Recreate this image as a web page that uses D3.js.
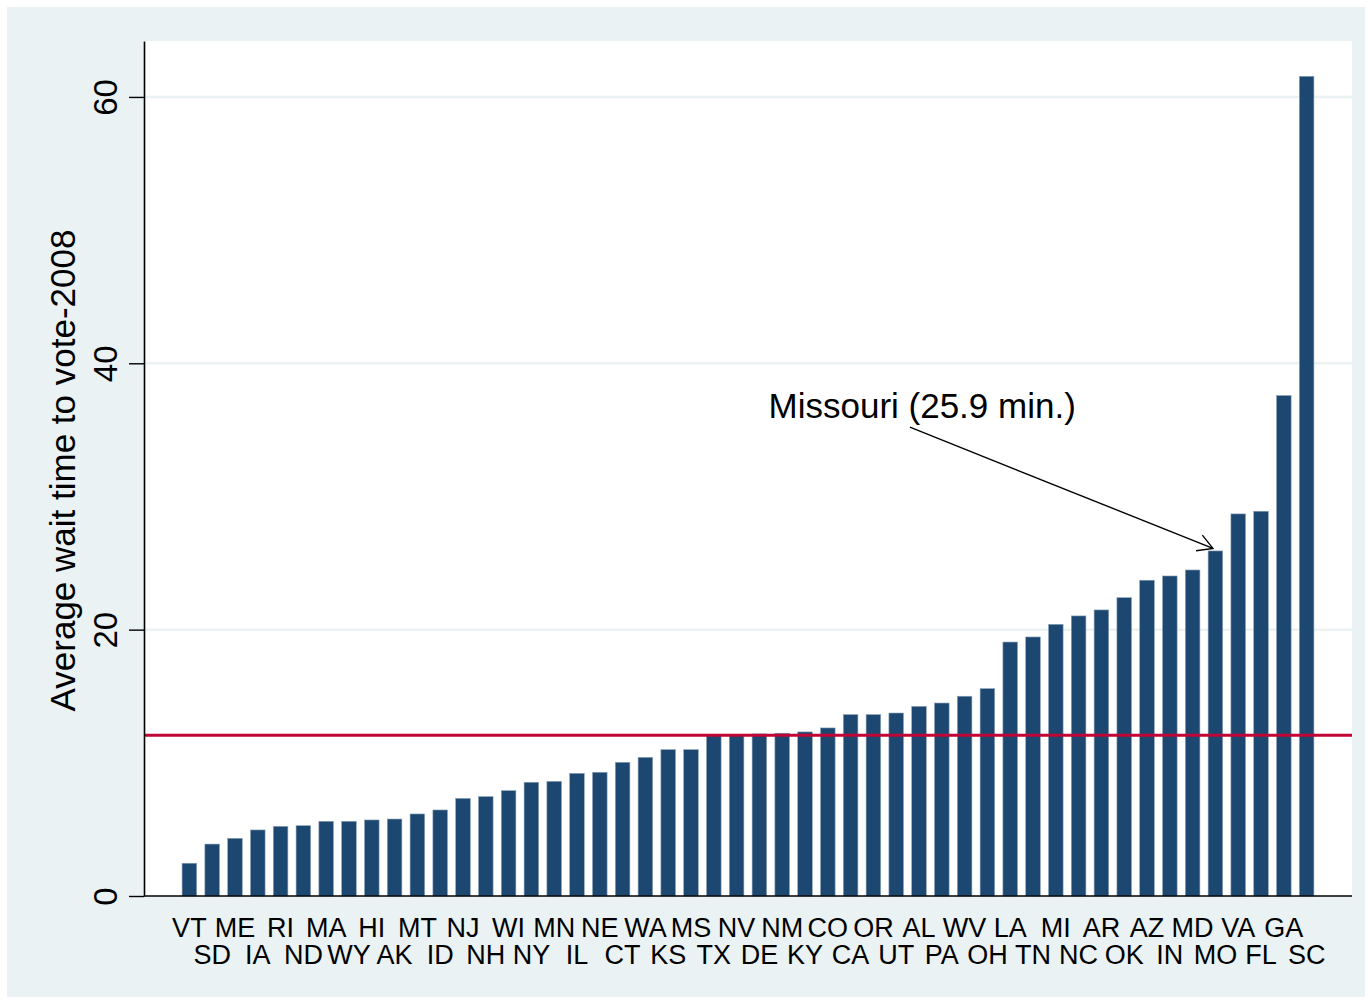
<!DOCTYPE html>
<html>
<head>
<meta charset="utf-8">
<script src="https://cdn.jsdelivr.net/npm/d3@7"></script>
<style>
  body { margin: 0; background: #fff; }
  svg { display: block; font-family: "Liberation Sans", Arial, sans-serif; }
</style>
</head>
<body>
<div class="graph-wait"></div>
<script>
// states sorted by average wait (minutes), 2008
const states = ["VT", "SD", "ME", "IA", "RI", "ND", "MA", "WY", "HI", "AK",
  "MT", "ID", "NJ", "NH", "WI", "NY", "MN", "IL", "NE", "CT",
  "WA", "KS", "MS", "TX", "NV", "DE", "NM", "KY", "CO", "CA",
  "OR", "UT", "AL", "PA", "WV", "OH", "LA", "TN", "MI", "NC",
  "AR", "OK", "AZ", "IN", "MD", "MO", "VA", "FL", "GA", "SC"];
const waits = [2.46, 3.90, 4.33, 4.96, 5.23, 5.28, 5.61, 5.61, 5.71, 5.78,
  6.16, 6.46, 7.33, 7.46, 7.91, 8.54, 8.61, 9.21, 9.29, 10.04,
  10.41, 10.99, 10.99, 12.04, 12.09, 12.17, 12.22, 12.32, 12.62, 13.62,
  13.62, 13.74, 14.24, 14.49, 15.00, 15.57, 19.07, 19.45, 20.40, 21.03,
  21.48, 22.40, 23.71, 24.03, 24.48, 25.91, 28.69, 28.89, 37.58, 61.55];
const yTicks = [0, 20, 40, 60];
const average = 12.07;
const yTitle = "Average wait time to vote-2008";
const note = "Missouri (25.9 min.)";

const width = 1372;
const height = 1004;
const plotLeft = 144, plotRight = 1352, plotTop = 41, plotBottom = 896;

const svg = d3.select(".graph-wait")
    .append("svg")
    .attr("width", width)
    .attr("height", height);

// stata-ish background and white plot region
svg.append("rect")
    .attr("x", 7).attr("y", 7)
    .attr("width", width - 14).attr("height", height - 14)
    .attr("fill", "#eaf2f3");
svg.append("rect")
    .attr("x", plotLeft).attr("y", plotTop)
    .attr("width", plotRight - plotLeft).attr("height", plotBottom - plotTop)
    .attr("fill", "#ffffff");

const x = d3.scaleBand()
    .domain(states)
    .range([plotLeft, plotRight])
    .paddingInner(0.36)
    .paddingOuter(1.67);

const y = d3.scaleLinear()
    .domain([0, 64.2])
    .range([plotBottom, plotTop]);

// gridlines
svg.append("g")
    .selectAll("line")
    .data(yTicks.filter(t => t > 0))
    .enter()
    .append("line")
    .attr("x1", plotLeft).attr("x2", plotRight)
    .attr("y1", d => y(d)).attr("y2", d => y(d))
    .attr("stroke", "#eaf2f3")
    .attr("stroke-width", 2.5);

// bars
svg.append("g")
    .selectAll("rect")
    .data(waits)
    .enter()
    .append("rect")
    .attr("x", (d, i) => x(states[i]))
    .attr("y", d => y(d))
    .attr("width", x.bandwidth())
    .attr("height", d => y(0) - y(d))
    .attr("fill", "#1c4770")
    .attr("stroke", "#8ea3b8")
    .attr("stroke-width", 0.6);

// average line
svg.append("line")
    .attr("x1", plotLeft).attr("x2", plotRight)
    .attr("y1", y(average)).attr("y2", y(average))
    .attr("stroke", "#c10534")
    .attr("stroke-width", 2.8);

// y axis
const yAxis = svg.append("g")
    .attr("transform", `translate(${plotLeft},0)`)
    .call(d3.axisLeft(y).tickValues(yTicks).tickSize(15).tickSizeOuter(0).tickFormat(d3.format("d")));
yAxis.select(".domain").attr("stroke", "#000").attr("stroke-width", 1.6);
yAxis.selectAll(".tick line").attr("stroke", "#000").attr("stroke-width", 1.4);
yAxis.selectAll(".tick text")
    .attr("x", null).attr("dy", null)
    .attr("transform", "translate(-27,0) rotate(-90)")
    .attr("text-anchor", "middle")
    .attr("fill", "#000")
    .style("font-size", "33px");

svg.append("text")
    .attr("transform", `translate(75,${(plotTop + plotBottom) / 2 + 2}) rotate(-90)`)
    .attr("text-anchor", "middle")
    .style("font-size", "35px")
    .attr("fill", "#000")
    .text(yTitle);

// x axis, labels in two staggered rows
const xAxis = svg.append("g")
    .attr("transform", `translate(0,${plotBottom})`)
    .call(d3.axisBottom(x).tickSize(0).tickSizeOuter(0));
xAxis.select(".domain")
    .attr("d", `M${plotLeft},0H${plotRight}`)
    .attr("stroke", "#000").attr("stroke-width", 1.6);
xAxis.selectAll(".tick text")
    .attr("dy", null)
    .attr("y", (d, i) => i % 2 === 0 ? 41 : 68)
    .attr("fill", "#000")
    .style("font-size", "27px");

// annotation for Missouri
const step = x.step();
const ix = i => x(states[0]) + x.bandwidth() / 2 + i * step;
const mo = states.indexOf("MO");
const tipX = ix(mo) - 2.5, tipY = y(26.1);
const fromX = ix(31.6), fromY = y(35.2);

svg.append("text")
    .attr("x", ix(25.4))
    .attr("y", y(35.9))
    .style("font-size", "35px")
    .attr("fill", "#000")
    .text(note);

const ang = Math.atan2(tipY - fromY, tipX - fromX);
const head = 17;
svg.append("line")
    .attr("x1", fromX).attr("y1", fromY)
    .attr("x2", tipX).attr("y2", tipY)
    .attr("stroke", "#000").attr("stroke-width", 1.4);
svg.append("path")
    .attr("d", `M${tipX - head * Math.cos(ang - 0.52)},${tipY - head * Math.sin(ang - 0.52)}` +
        `L${tipX},${tipY}` +
        `L${tipX - head * Math.cos(ang + 0.52)},${tipY - head * Math.sin(ang + 0.52)}`)
    .attr("fill", "none")
    .attr("stroke", "#000").attr("stroke-width", 1.4);
</script>
</body>
</html>
